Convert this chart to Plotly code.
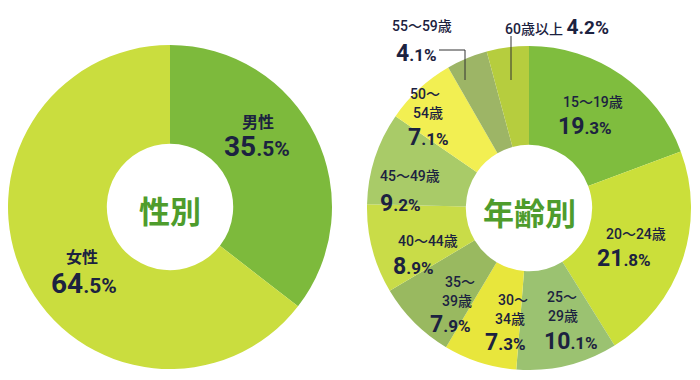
import plotly.graph_objects as go

# ---- data ----
gender_labels = ["男性", "女性"]
gender_values = [35.5, 64.5]
gender_colors = ["#7dba3c", "#cadd3e"]

age_labels = ["15～19歳", "20～24歳", "25～29歳", "30～34歳", "35～39歳",
              "40～44歳", "45～49歳", "50～54歳", "55～59歳", "60歳以上"]
age_values = [19.3, 21.8, 10.1, 7.3, 7.9, 8.9, 9.2, 7.1, 4.1, 4.2]
age_colors = ["#7fbd3e", "#cbdf3a", "#9bc271", "#e8e63c", "#99b960",
              "#c9dc48", "#a9cb68", "#f2ef52", "#9db566", "#b6cd3e"]

W, H = 700, 380
OFF = 8  # page body margin
TXT = "#1c2240"
FONT = "Roboto, Noto Sans CJK JP"
CJK = "Noto Sans CJK JP"


def px(x, y):
    return (x - OFF) / W, 1 - (y - OFF) / H


def dom(cx, cy, r):
    cx -= OFF
    cy -= OFF
    return dict(x=[max(0, (cx - r) / W), (cx + r) / W],
                y=[1 - (cy + r) / H, 1 - (cy - r) / H])


fig = go.Figure()
fig.add_trace(go.Pie(labels=gender_labels, values=gender_values, sort=False,
                     direction="clockwise", rotation=0, hole=0.39,
                     marker=dict(colors=gender_colors, line=dict(width=0)),
                     textinfo="none", hoverinfo="label+percent",
                     domain=dom(170, 207, 162), showlegend=False))
fig.add_trace(go.Pie(labels=age_labels, values=age_values, sort=False,
                     direction="clockwise", rotation=0, hole=0.39,
                     marker=dict(colors=age_colors, line=dict(width=0)),
                     textinfo="none", hoverinfo="label+percent",
                     domain=dom(529, 208, 162), showlegend=False))


def pct(v, big=23, small=17):
    s = f"{v:.1f}"
    i, d = s.split(".")
    return (f"<b><span style='font-size:{big}px'>{i}</span>"
            f"<span style='font-size:{small}px'>.{d}%</span></b>")


ann = []


def add(text, x, y, size=15, color=TXT, bold=False, family=FONT, weight=500):
    ax, ay = px(x, y)
    t = f"<b>{text}</b>" if bold else text
    ann.append(dict(text=t, x=ax, y=ay, xref="paper", yref="paper", showarrow=False,
                    xanchor="center", yanchor="middle", align="center", borderpad=0,
                    font=dict(family=family, size=size, color=color, weight=weight)))


def split(lbl):
    a, b = lbl.split("～")
    return a + "～", b


# gender labels
add(gender_labels[0], 258, 121, size=16, bold=True, family=CJK)
add(pct(gender_values[0], 28, 21), 257, 146, size=24)
add(gender_labels[1], 82, 256, size=16, bold=True, family=CJK)
add(pct(gender_values[1], 28, 21), 84, 283, size=24)
add("性別", 170, 209, size=31, color="#4e9c2c", bold=True, family=CJK)
add("年齢別", 529, 211, size=31, color="#4e9c2c", bold=True, family=CJK)

# age labels
LS = 14
add(age_labels[0], 593, 102, size=LS)
add(pct(age_values[0]), 585, 127, size=20)
add(age_labels[1], 636, 234, size=LS)
add(pct(age_values[1]), 624, 258, size=20)
l1, l2 = split(age_labels[2])
add(l1, 562, 297, size=LS)
add(l2, 563, 316, size=LS)
add(pct(age_values[2]), 571, 341, size=20)
l1, l2 = split(age_labels[3])
add(l1, 513, 300, size=LS)
add(l2, 510, 319, size=LS)
add(pct(age_values[3]), 505, 342, size=20)
l1, l2 = split(age_labels[4])
add(l1, 460, 282, size=LS)
add(l2, 457, 301, size=LS)
add(pct(age_values[4]), 450, 324, size=20)
add(age_labels[5], 428, 241, size=LS)
add(pct(age_values[5]), 413, 266, size=20)
add(age_labels[6], 410, 176, size=LS)
add(pct(age_values[6]), 400, 203, size=20)
l1, l2 = split(age_labels[7])
add(l1, 425, 94, size=LS)
add(l2, 428, 113, size=LS)
add(pct(age_values[7]), 428, 137, size=20)
add(age_labels[8], 422, 26, size=LS)
add(pct(age_values[8]), 416, 53, size=20)
add(age_labels[9] + " " + pct(age_values[9], 21, 19), 557, 27, size=LS)

shapes = []
x0, y0 = px(439, 50)
x1, y1 = px(465, 50)
x2, y2 = px(465, 80)
shapes.append(dict(type="path", xref="paper", yref="paper",
                   path=f"M {x0} {y0} L {x1} {y1} L {x2} {y2}",
                   line=dict(color="#333333", width=1)))
a, b = px(511, 36)
c, d = px(511, 80)
shapes.append(dict(type="line", xref="paper", yref="paper", x0=a, y0=b, x1=c, y1=d,
                   line=dict(color="#333333", width=1)))

fig.update_layout(width=W, height=H, margin=dict(l=0, r=0, t=0, b=0),
                  paper_bgcolor="white", plot_bgcolor="white",
                  annotations=ann, shapes=shapes)

fig.write_html("out.html")
